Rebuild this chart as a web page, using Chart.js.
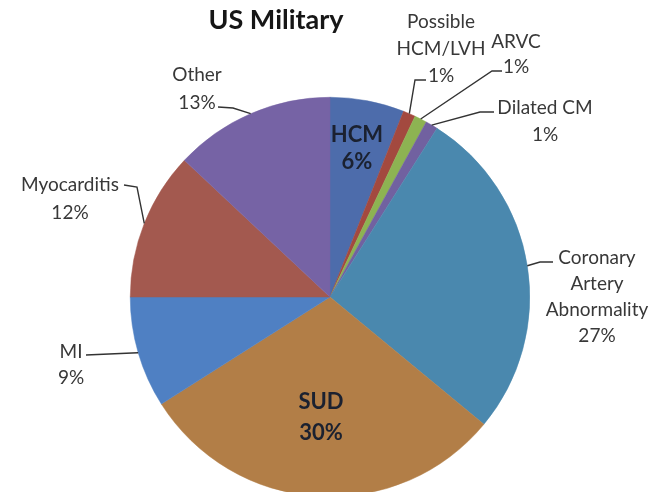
<!DOCTYPE html>
<html>
<head>
<meta charset="utf-8">
<title>US Military</title>
<script src="https://cdn.jsdelivr.net/npm/chart.js@4/dist/chart.umd.min.js"></script>
<style>
  html, body { margin: 0; padding: 0; background: #fff; }
  #wrap { width: 652px; height: 492px; overflow: hidden; position: relative; }
  canvas { display: block; }
</style>
</head>
<body>
<div id="wrap"><canvas id="pie" width="652" height="510"></canvas></div>
<script>
/* Causes of sudden death, US military – pie with callout labels */
const TITLE = 'US Military';

const categories = ['HCM', 'Possible\nHCM/LVH', 'ARVC', 'Dilated CM', 'Coronary\nArtery\nAbnormality',
  'SUD', 'MI', 'Myocarditis', 'Other'];
const values = [6, 1, 1, 1, 27, 30, 9, 12, 13];
const colors = ['#4d6cab', '#a3493f', '#8db352', '#7161a0', '#4a88ae', '#b27e47', '#4f80c3', '#a3594f', '#7663a5'];

// label placement, offsets from the pie centre; leader = [elbow, end] (start is the arc edge)
const labelPos = [
  { dx: 27, dy: -162, gap: 27, inside: true },
  { dx: 111, dy: -275, gap: 27, leader: [[85, -217], [96, -217]] },
  { dx: 186, dy: -255, gap: 25, leader: [[162, -226], [172, -226]] },
  { dx: 215, dy: -189, gap: 27, leader: [[150, -185], [164, -185]] },
  { dx: 267, dy: -39, gap: 26, leader: [[210, -35], [223, -35]] },
  { dx: -9, dy: 105, gap: 31, inside: true },
  { dx: -259, dy: 55, gap: 26, leader: [[-198, 56], [-244, 58]] },
  { dx: -260, dy: -112, gap: 28, leader: [[-193, -110], [-206, -112]] },
  { dx: -133, dy: -222, gap: 28, leader: [[-97, -189], [-112, -190]] },
];

const FONT = 'Lato, "Liberation Sans", sans-serif';

const calloutPlugin = {
  id: 'callouts',
  afterDraw(chart) {
    const ctx = chart.ctx;
    const arcs = chart.getDatasetMeta(0).data;
    ctx.save();

    // title
    ctx.fillStyle = '#161616';
    ctx.font = `bold 27px ${FONT}`;
    ctx.textAlign = 'center';
    ctx.textBaseline = 'middle';
    ctx.fillText(TITLE, 276, 20);

    arcs.forEach((arc, i) => {
      const p = labelPos[i];
      const cx = arc.x, cy = arc.y;
      const lines = categories[i].split('\n').concat([values[i] + '%']);

      if (p.leader) {
        const mid = (arc.startAngle + arc.endAngle) / 2;
        ctx.strokeStyle = '#333';
        ctx.lineWidth = 1.4;
        ctx.beginPath();
        ctx.moveTo(cx + Math.cos(mid) * arc.outerRadius, cy + Math.sin(mid) * arc.outerRadius);
        p.leader.forEach(([lx, ly]) => ctx.lineTo(cx + lx, cy + ly));
        ctx.stroke();
      }

      ctx.fillStyle = p.inside ? '#1b2130' : '#383838';
      ctx.font = p.inside ? `bold 22px ${FONT}` : `19px ${FONT}`;
      lines.forEach((t, k) => ctx.fillText(t, cx + p.dx, cy + p.dy + k * p.gap));
    });
    ctx.restore();
  },
};

new Chart(document.getElementById('pie'), {
  type: 'pie',
  data: {
    labels: categories,
    datasets: [{
      data: values,
      backgroundColor: colors,
      borderColor: colors,
      borderWidth: 0.5,
    }],
  },
  options: {
    responsive: false,
    devicePixelRatio: 1,
    animation: false,
    layout: { padding: { left: 130, right: 122, top: 97, bottom: 13 } },
    plugins: { legend: { display: false }, tooltip: { enabled: false }, title: { display: false } },
  },
  plugins: [calloutPlugin],
});
</script>
</body>
</html>
